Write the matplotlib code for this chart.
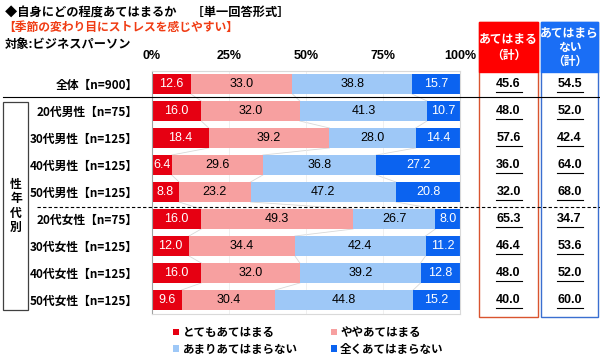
import matplotlib
matplotlib.use("Agg")
from matplotlib import pyplot as plt
from matplotlib.patches import Rectangle
from matplotlib.lines import Line2D
from matplotlib.transforms import blended_transform_factory
import numpy as np

plt.rcParams['font.family'] = ['Noto Sans CJK JP', 'DejaVu Sans']

categories = ["全体【n=900】", "20代男性【n=75】", "30代男性【n=125】", "40代男性【n=125】",
              "50代男性【n=125】", "20代女性【n=75】", "30代女性【n=125】", "40代女性【n=125】",
              "50代女性【n=125】"]
series_names = ["とてもあてはまる", "ややあてはまる", "あまりあてはまらない", "全くあてはまらない"]
very = [12.6, 16.0, 18.4, 6.4, 8.8, 16.0, 12.0, 16.0, 9.6]
somewhat = [33.0, 32.0, 39.2, 29.6, 23.2, 49.3, 34.4, 32.0, 30.4]
not_much = [38.8, 41.3, 28.0, 36.8, 47.2, 26.7, 42.4, 39.2, 44.8]
not_at_all = [15.7, 10.7, 14.4, 27.2, 20.8, 8.0, 11.2, 12.8, 15.2]
total_yes = [45.6, 48.0, 57.6, 36.0, 32.0, 65.3, 46.4, 48.0, 40.0]
total_no = [54.5, 52.0, 42.4, 64.0, 68.0, 34.7, 53.6, 52.0, 60.0]
ticks = [0, 25, 50, 75, 100]

colors = ["#e60012", "#f7a0a0", "#9ec8f7", "#0b63f0"]
text_colors = ["white", "black", "black", "white"]
num_font = ["Liberation Sans", "DejaVu Sans"]

W, H = 600, 357
def fx(px): return px / W
def fy(py): return 1 - py / H

fig = plt.figure(figsize=(6, 3.57), dpi=100)
# bar area: x 152..460 px, rows centred 84..300 px
ax = fig.add_axes([fx(152), fy(313.5), fx(460) - fx(152), (313.5 - 70.5) / H])

y = np.arange(len(categories))
left = np.zeros(len(categories))
for vals, c, tc in zip([very, somewhat, not_much, not_at_all], colors, text_colors):
    vals = np.array(vals)
    ax.barh(y, vals, left=left, height=0.74, color=c, edgecolor="none", zorder=2)
    for yi, l, v in zip(y, left, vals):
        ax.text(l + v / 2, yi, f"{v:.1f}", ha="center", va="center", color=tc,
                fontsize=9, family=num_font, zorder=3)
    left = left + vals
# faint series lines between rows
cum = np.cumsum(np.array([very, somewhat, not_much]), axis=0)
for row in cum:
    for i in range(len(y) - 1):
        ax.plot([row[i], row[i + 1]], [y[i] + 0.37, y[i + 1] - 0.37], color="#d8d8d8", lw=0.6, zorder=1)

ax.set_xlim(0, 100)
ax.set_ylim(len(categories) - 0.5, -0.5)
ax.set_xticks(ticks)
ax.set_xticklabels([f"{t}%" for t in ticks], fontsize=9, family=num_font, fontweight="bold")
ax.xaxis.tick_top()
ax.tick_params(axis="x", length=0, pad=6)
ax.set_yticks(y)
ax.set_yticklabels(categories, fontsize=8.5, fontweight="bold")
ax.tick_params(axis="y", length=0, pad=10)
ax.grid(axis="x", color="#ececec", lw=0.6, zorder=0)
for s in ax.spines.values():
    s.set_color("#d9d9d9")
    s.set_linewidth(0.8)
ax.spines["left"].set_color("#a0a0a0")

# titles
fig.text(fx(5), fy(12), "◆自身にどの程度あてはまるか　 ［単一回答形式］", fontsize=8.8, fontweight="bold", va="center")
fig.text(fx(3), fy(27), "【季節の変わり目にストレスを感じやすい】", fontsize=8.5, fontweight="bold", va="center", color="#f03c14")
fig.text(fx(5), fy(44), "対象:ビジネスパーソン", fontsize=8.8, fontweight="bold", va="center")

# separators
fig.add_artist(Line2D([fx(3), fx(600)], [fy(97), fy(97)], color="black", lw=0.8))
fig.add_artist(Line2D([fx(37), fx(600)], [fy(206.5), fy(206.5)], color="black", lw=0.8, ls=(0, (3, 2))))

# group box
fig.add_artist(Rectangle((fx(3), fy(310)), fx(28) - fx(3), (310 - 102) / H, fill=False, ec="#404040", lw=0.9))
fig.text(fx(16), fy(206), "性\n年\n代\n別", fontsize=8.5, fontweight="bold", ha="center", va="center", linespacing=1.15)

# total columns
fig.add_artist(Rectangle((fx(479), fy(317)), fx(538) - fx(479), (317 - 22) / H, fill=False, ec="#d9542f", lw=1.0))
fig.add_artist(Rectangle((fx(479), fy(72)), fx(538) - fx(479), 50 / H, fc="#ff0000", ec="#ff0000", lw=1.0))
fig.add_artist(Rectangle((fx(541), fy(317)), fx(598) - fx(541), (317 - 22) / H, fill=False, ec="#3a6fd0", lw=1.0))
fig.add_artist(Rectangle((fx(541), fy(72)), fx(598) - fx(541), 50 / H, fc="#1a6ef5", ec="#1a6ef5", lw=1.0))
fig.text(fx(508.5), fy(47), "あてはまる\n（計）", color="white", fontsize=8.5, fontweight="bold", ha="center", va="center", linespacing=1.3)
fig.text(fx(569.5), fy(47), "あてはまら\nない\n（計）", color="white", fontsize=8.5, fontweight="bold", ha="center", va="center", linespacing=1.1)

tr = blended_transform_factory(fig.transFigure, ax.transData)
for yi, a, b in zip(y, total_yes, total_no):
    for xp, v in [(508.5, a), (569.5, b)]:
        fig.text(fx(xp), yi, f"{v:.1f}", transform=tr, ha="center", va="center", fontsize=9,
                 family=num_font, fontweight="bold")
        fig.add_artist(Line2D([fx(xp - 13), fx(xp + 13)], [yi + 0.3, yi + 0.3], transform=tr, color="black", lw=0.8))

# legend
handles = [Rectangle((0, 0), 1, 1, fc=c, ec="none") for c in colors]
order = [0, 2, 1, 3]
fig.legend([handles[i] for i in order], [series_names[i] for i in order], ncol=2,
           loc="center left", bbox_to_anchor=(fx(163), fy(341)), frameon=False,
           prop={"size": 8.3, "weight": "bold"}, handlelength=0.5, handleheight=0.5,
           handletextpad=0.3, columnspacing=2.9, labelspacing=0.3)

fig.savefig("out.png", dpi=100)
